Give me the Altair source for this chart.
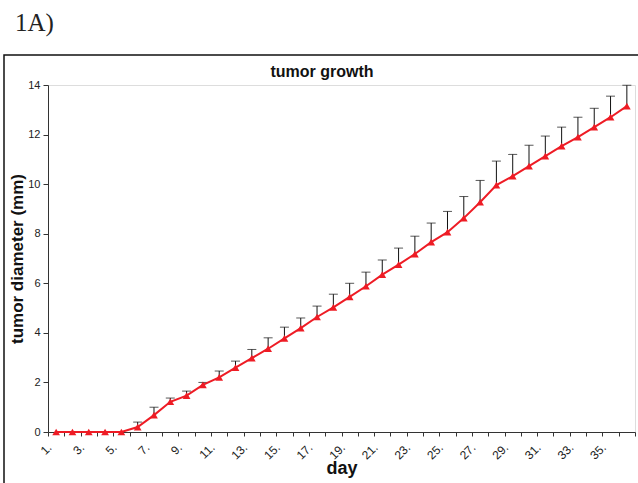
import altair as alt
import pandas as pd

days = list(range(1, 37))
mean_mm = [0, 0, 0, 0, 0,
           0.20, 0.68, 1.22, 1.47, 1.90, 2.20, 2.60, 2.98, 3.36, 3.78,
           4.19, 4.64, 5.03, 5.45, 5.88, 6.35, 6.75, 7.18, 7.66, 8.06,
           8.63, 9.27, 9.96, 10.32, 10.73, 11.13, 11.53, 11.90, 12.30, 12.70, 13.15]
sd_mm = [0, 0, 0, 0, 0,
         0.20, 0.32, 0.15, 0.18, 0.10, 0.26, 0.26, 0.35, 0.44, 0.45,
         0.41, 0.44, 0.53, 0.55, 0.57, 0.59, 0.67, 0.72, 0.77, 0.84,
         0.87, 0.88, 0.97, 0.88, 0.84, 0.81, 0.77, 0.80, 0.76, 0.85, 0.84]

df = pd.DataFrame({"day": days, "mean": mean_mm, "sd": sd_mm})
df["top"] = df["mean"] + df["sd"]
err_df = df[df["sd"] > 0]

FONT = "Liberation Sans"

x_enc = alt.X("day:O", axis=alt.Axis(
    title="day", labelAngle=-45, labelAlign="right", labelBaseline="middle",
    labelExpr="datum.value % 2 == 1 ? datum.value + '.' : ''",
    labelFont=FONT, labelFontSize=12, labelColor="#222", labelPadding=9,
    labelOffset=-7,
    tickBand="extent", tickSize=4, tickColor="#333", domainColor="#333",
    titleFont=FONT, titleFontSize=18, titleFontWeight="bold", titleColor="#111",
    titleY=27, titleBaseline="top", grid=False),
    scale=alt.Scale(paddingInner=0, paddingOuter=0))
y_scale = alt.Scale(domain=[0, 14], nice=False)
y_axis = alt.Axis(title="tumor diameter (mm)", values=[0, 2, 4, 6, 8, 10, 12, 14],
                  labelFont=FONT, labelFontSize=11, labelColor="#222",
                  tickSize=5, tickColor="#333", domainColor="#333", labelPadding=3,
                  titleFont=FONT, titleFontSize=17, titleFontWeight="bold",
                  titleColor="#111", titleX=-31, titleY=173.5,
                  titleBaseline="middle", titleAlign="center", titleAngle=270,
                  grid=False)

base = alt.Chart(df)

err_rule = alt.Chart(err_df).mark_rule(color="#111", strokeWidth=1).encode(
    x=x_enc, y=alt.Y("mean:Q", scale=y_scale, axis=y_axis), y2="top:Q")
err_cap = alt.Chart(err_df).mark_tick(color="#111", size=9, thickness=1,
                                      orient="horizontal").encode(
    x=x_enc, y=alt.Y("top:Q", scale=y_scale))
line = base.mark_line(color="#ee1c25", strokeWidth=2).encode(
    x=x_enc, y=alt.Y("mean:Q", scale=y_scale, axis=y_axis))
pts = base.mark_point(shape="triangle-up", filled=True, color="#ee1c25",
                      size=60, opacity=1).encode(
    x=x_enc, y=alt.Y("mean:Q", scale=y_scale))

title_txt = alt.Chart(pd.DataFrame({"t": ["tumor growth"]})).mark_text(
    font=FONT, fontSize=16, fontWeight="bold", color="#111",
    align="center", baseline="middle").encode(
    text="t:N", x=alt.value(274), y=alt.value(-13))
panel_txt = alt.Chart(pd.DataFrame({"t": ["1A)"]})).mark_text(
    font="Liberation Serif", fontSize=25, color="#222",
    align="left", baseline="middle").encode(
    text="t:N", x=alt.value(-33), y=alt.value(-62))
frame = alt.Chart(pd.DataFrame({"a": [0]})).mark_rect(
    fill=None, stroke="#111", strokeWidth=1.5).encode(
    x=alt.value(-44), x2=alt.value(640), y=alt.value(-30), y2=alt.value(420))

chart = alt.layer(frame, err_rule, err_cap, line, pts, title_txt, panel_txt).properties(
    width=587, height=347,
    padding={"left": 48, "top": 85, "right": 3, "bottom": 51},
    autosize=alt.AutoSizeParams(type="none"),
).configure_view(stroke=None).configure(background="white")

chart.save("out.html", embed_options={"renderer": "svg", "actions": False})
